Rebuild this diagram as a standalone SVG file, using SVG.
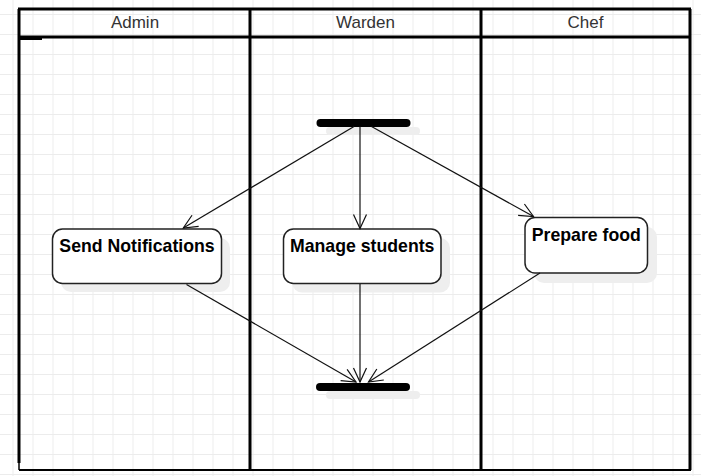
<svg xmlns="http://www.w3.org/2000/svg" width="701" height="476" viewBox="0 0 701 476">
<defs>
<pattern id="grid" x="12.5" y="14" width="20" height="20" patternUnits="userSpaceOnUse">
<path d="M 0.5 0 V 20 M 0 0.5 H 20" fill="none" stroke="#ececec" stroke-width="1"/>
</pattern>
<marker id="open" markerUnits="userSpaceOnUse" markerWidth="20" markerHeight="20" viewBox="-16 -10 20 20" refX="0" refY="0" orient="auto">
<path d="M -14 -6.5 L 0 0 L -14 6.5" fill="none" stroke="#111" stroke-width="1.2"/>
</marker>
</defs>
<style>
.lane { fill: none; stroke: #000; stroke-width: 3; }
.hdr { font-family: "Liberation Sans", Arial, sans-serif; font-size: 17px; fill: #333; text-anchor: middle; }
.node rect.box { fill: #fff; stroke: #222; stroke-width: 1.5; }
.node rect.shadow { fill: #eeeeee; stroke: none; }
.node text { font-family: "Liberation Sans", Arial, sans-serif; font-size: 17.7px; font-weight: bold; fill: #000; text-anchor: middle; }
.bar { fill: #000; }
.barshadow { fill: #eeeeee; }
.edge { fill: none; stroke: #111; stroke-width: 1.2; marker-end: url(#open); }
</style>
<rect x="0" y="0" width="701" height="476" fill="#fff"/>
<rect x="0" y="0" width="701" height="476" fill="url(#grid)"/>

<g id="pool">
<rect x="19" y="9" width="671" height="461" fill="#fff" fill-opacity="0"/>
<line class="lane" x1="18" y1="9" x2="691" y2="9"/>
<line class="lane" x1="19" y1="37" x2="690" y2="37"/>
<line class="lane" x1="19" y1="9" x2="19" y2="463"/>
<line x1="19" y1="463" x2="19" y2="470" stroke="#000" stroke-width="1.5"/>
<line class="lane" x1="250" y1="9" x2="250" y2="470"/>
<line class="lane" x1="481" y1="9" x2="481" y2="470"/>
<line class="lane" x1="690" y1="9" x2="690" y2="470"/>
<line x1="19" y1="470" x2="691" y2="470" stroke="#000" stroke-width="2"/>
<line x1="19" y1="39" x2="42" y2="39" stroke="#000" stroke-width="2"/>
</g>
<g id="lane-admin"><text class="hdr" x="135" y="27.5">Admin</text></g>
<g id="lane-warden"><text class="hdr" x="365.5" y="27.5">Warden</text></g>
<g id="lane-chef"><text class="hdr" x="585.5" y="27.5">Chef</text></g>

<g id="fork">
<rect class="barshadow" x="326" y="127" width="94" height="8" rx="4"/>
<rect class="bar" x="316.5" y="119" width="94" height="8" rx="4"/>
</g>
<g id="join">
<rect class="barshadow" x="326" y="391" width="94" height="8" rx="4"/>
<rect class="bar" x="316" y="383" width="94" height="8" rx="4"/>
</g>

<g id="send-notifications" class="node">
<rect class="shadow" x="61" y="238" width="169" height="54" rx="10"/>
<rect class="box" x="52.5" y="229" width="169" height="54.5" rx="10"/>
<text x="137" y="251.7">Send Notifications</text>
</g>
<g id="manage-students" class="node">
<rect class="shadow" x="292" y="238" width="158" height="54.5" rx="10"/>
<rect class="box" x="283.5" y="229" width="157.5" height="54.5" rx="10"/>
<text x="362.2" y="251.7">Manage students</text>
</g>
<g id="prepare-food" class="node">
<rect class="shadow" x="534" y="227" width="123" height="56" rx="10"/>
<rect class="box" x="525" y="217.5" width="122.5" height="55.5" rx="10"/>
<text x="586.3" y="240.7">Prepare food</text>
</g>

<g id="connectors">
<line class="edge" x1="354" y1="126.5" x2="183.3" y2="228"/>
<line class="edge" x1="360" y1="126.5" x2="360" y2="228.5"/>
<line class="edge" x1="371.5" y1="126.5" x2="533.5" y2="216.5"/>
<line class="edge" x1="186.5" y1="284.5" x2="356" y2="382"/>
<line class="edge" x1="360" y1="284" x2="360" y2="382"/>
<line class="edge" x1="540" y1="273" x2="368.5" y2="382"/>
</g>
</svg>
